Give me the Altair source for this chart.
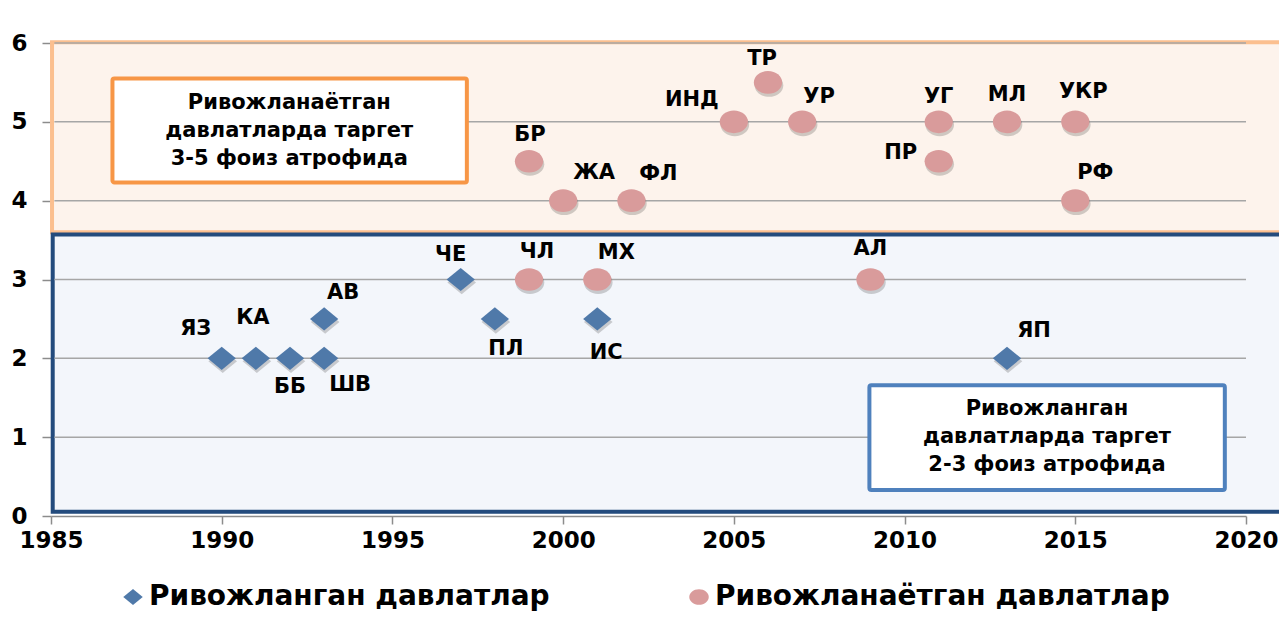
import altair as alt
import pandas as pd

# ---------------- data ----------------
dev_names = ["ЯЗ", "КА", "ББ", "ШВ", "АВ", "ЧЕ", "ПЛ", "ИС", "ЯП"]
dev_years = [1990, 1991, 1992, 1993, 1993, 1997, 1998, 2001, 2013]
dev_values = [2, 2, 2, 2, 2.5, 3, 2.5, 2.5, 2]

devg_names = ["БР", "ЖА", "ФЛ", "ИНД", "ТР", "УР", "УГ", "ПР", "МЛ", "УКР", "РФ", "ЧЛ", "МХ", "АЛ"]
devg_years = [1999, 2000, 2002, 2005, 2006, 2007, 2011, 2011, 2013, 2015, 2015, 1999, 2001, 2009]
devg_values = [4.5, 4, 4, 5, 5.5, 5, 5, 4.5, 5, 5, 4, 3, 3, 3]

DEV = "Ривожланган  давлатлар"
DEVG = "Ривожланаётган  давлатлар"

x_ticks = [1985, 1990, 1995, 2000, 2005, 2010, 2015, 2020]
y_ticks = [0, 1, 2, 3, 4, 5, 6]
grid_values = [1, 2, 3, 4, 5, 6]

box_devg_lines = ["Ривожланаётган", "давлатларда таргет", "3-5 фоиз атрофида"]
box_dev_lines = ["Ривожланган", "давлатларда таргет", "2-3 фоиз атрофида"]

points = pd.DataFrame({
    "name": dev_names + devg_names,
    "year": dev_years + devg_years,
    "value": dev_values + devg_values,
    "group": [DEV] * len(dev_names) + [DEVG] * len(devg_names),
})

# ---------------- styling ----------------
BLUE = "#4f79a9"
PINK = "#d99b9b"
FONT = "DejaVu Sans"

DIAMOND = "M-1,0L0,-0.82L1,0L0,0.82Z"
ELLIPSE = "M-1,0A1,0.8,0,1,0,1,0A1,0.8,0,1,0,-1,0Z"

xs = alt.Scale(domain=[1985, 2020], nice=False, zero=False)
ys = alt.Scale(domain=[0, 6], nice=False)
xaxis = alt.Axis(values=x_ticks, format="d", title=None, grid=False, domain=True,
                 domainColor="#8c8c8c", domainWidth=1.5, tickColor="#8c8c8c",
                 tickSize=8, tickWidth=1.5, labelFont=FONT, labelFontSize=23,
                 labelFontWeight="bold", labelColor="#000000", labelPadding=5,
                 labelFlush=False, labelOverlap=False)
yaxis = alt.Axis(values=y_ticks, title=None, grid=False, domain=False,
                 tickColor="#8c8c8c", tickSize=9, tickWidth=1.5,
                 labelFont=FONT, labelFontSize=23, labelFontWeight="bold",
                 labelColor="#000000", labelPadding=15, labelFlush=False)


def X(field=None, datum=None):
    if datum is not None:
        return alt.X(datum=datum, type="quantitative", scale=xs, axis=xaxis)
    return alt.X(field, type="quantitative", scale=xs, axis=xaxis)


def Y(field=None, datum=None):
    if datum is not None:
        return alt.Y(datum=datum, type="quantitative", scale=ys, axis=yaxis)
    return alt.Y(field, type="quantitative", scale=ys, axis=yaxis)


one = pd.DataFrame({"a": [0]})

# background regions
orange_region = alt.Chart(one).mark_rect(fill="#fdf3ec", stroke="#fbbf8f", strokeWidth=4).encode(
    x=X(datum=1985.03), x2=alt.X2(datum=2023), y=Y(datum=3.6), y2=alt.Y2(datum=6.01))
blue_region = alt.Chart(one).mark_rect(fill="#f3f6fb", stroke="#234b7d", strokeWidth=4).encode(
    x=X(datum=1985.05), x2=alt.X2(datum=2023), y=Y(datum=0.055), y2=alt.Y2(datum=3.57))

grid = alt.Chart(pd.DataFrame({"g": grid_values})).mark_rule(color="#a6a6a6", strokeWidth=1.5).encode(
    y=Y("g"), x=X(datum=1985.1), x2=alt.X2(datum=2020))

box_devg = alt.Chart(one).mark_rect(fill="white", stroke="#f79646", strokeWidth=4, cornerRadius=2).encode(
    x=X(datum=1986.8), x2=alt.X2(datum=1997.18), y=Y(datum=4.23), y2=alt.Y2(datum=5.55))
box_dev = alt.Chart(one).mark_rect(fill="white", stroke="#4f81bd", strokeWidth=4, cornerRadius=2).encode(
    x=X(datum=2008.97), x2=alt.X2(datum=2019.38), y=Y(datum=0.33), y2=alt.Y2(datum=1.66))

box_devg_text = alt.Chart(one).mark_text(text=box_devg_lines, font=FONT, fontSize=21,
                                         fontWeight="bold", lineHeight=28, color="#000000",
                                         align="center", baseline="middle").encode(
    x=X(datum=1991.98), y=Y(datum=5.24))
box_dev_text = alt.Chart(one).mark_text(text=box_dev_lines, font=FONT, fontSize=21,
                                        fontWeight="bold", lineHeight=28, color="#000000",
                                        align="center", baseline="middle").encode(
    x=X(datum=2014.17), y=Y(datum=1.36))

shape_scale = alt.Scale(domain=[DEV, DEVG], range=[DIAMOND, ELLIPSE])
color_scale = alt.Scale(domain=[DEV, DEVG], range=[BLUE, PINK])

shadow_dev = alt.Chart(points).transform_filter(alt.datum.group == DEV).mark_point(
    filled=True, opacity=0.18, color="#000000", shape=DIAMOND, size=820, xOffset=1, yOffset=3).encode(
    x=X("year"), y=Y("value"))
shadow_devg = alt.Chart(points).transform_filter(alt.datum.group == DEVG).mark_point(
    filled=True, opacity=0.18, color="#000000", shape=ELLIPSE, size=820, xOffset=1, yOffset=3).encode(
    x=X("year"), y=Y("value"))

legend = alt.Legend(title=None, orient="none", legendX=68, legendY=540, direction="horizontal",
                    labelFont=FONT, labelFontSize=28, labelFontWeight="bold",
                    labelColor="#000000", labelLimit=1000, symbolSize=380, labelOffset=2,
                    columnPadding=125, padding=0, symbolStrokeWidth=0)

marks = alt.Chart(points).mark_point(filled=True, opacity=1, size=800).encode(
    x=X("year"), y=Y("value"),
    shape=alt.Shape("group:N", scale=shape_scale, legend=legend),
    color=alt.Color("group:N", scale=color_scale, legend=legend))

# label offsets (pixels) relative to each marker
offsets = {
    "ЯЗ": (-26, -29), "КА": (-3, -40), "ББ": (0, 29), "ШВ": (26, 27), "АВ": (19, -26),
    "ЧЕ": (-10, -25), "ПЛ": (11, 30), "ИС": (9, 34), "ЯП": (27, -27),
    "ЧЛ": (8, -28), "МХ": (19, -27), "АЛ": (0, -31), "БР": (1, -26), "ЖА": (31, -28),
    "ФЛ": (27, -27), "ИНД": (-42, -22), "ТР": (-6, -23), "УР": (17, -25), "УГ": (0, -25),
    "ПР": (-38, -8), "МЛ": (0, -27), "УКР": (8, -30), "РФ": (20, -28),
}

label_layers = []
for n in points["name"]:
    dx, dy = offsets[n]
    label_layers.append(
        alt.Chart(points).transform_filter(alt.datum.name == n).mark_text(
            font=FONT, fontSize=21, fontWeight="bold", color="#000000",
            align="center", baseline="middle", dx=dx, dy=dy).encode(
            x=X("year"), y=Y("value"), text="name:N"))

chart = alt.layer(orange_region, blue_region, grid, box_devg, box_dev, box_devg_text,
                  box_dev_text, shadow_dev, shadow_devg, marks, *label_layers).properties(
    width=1195, height=473,
    padding={"left": 43, "top": 35, "right": 33, "bottom": 98},
    autosize=alt.AutoSizeParams(type="none"),
    background="white",
).configure_view(stroke=None)

chart.save("out.html", embed_options={"renderer": "svg", "actions": False})
